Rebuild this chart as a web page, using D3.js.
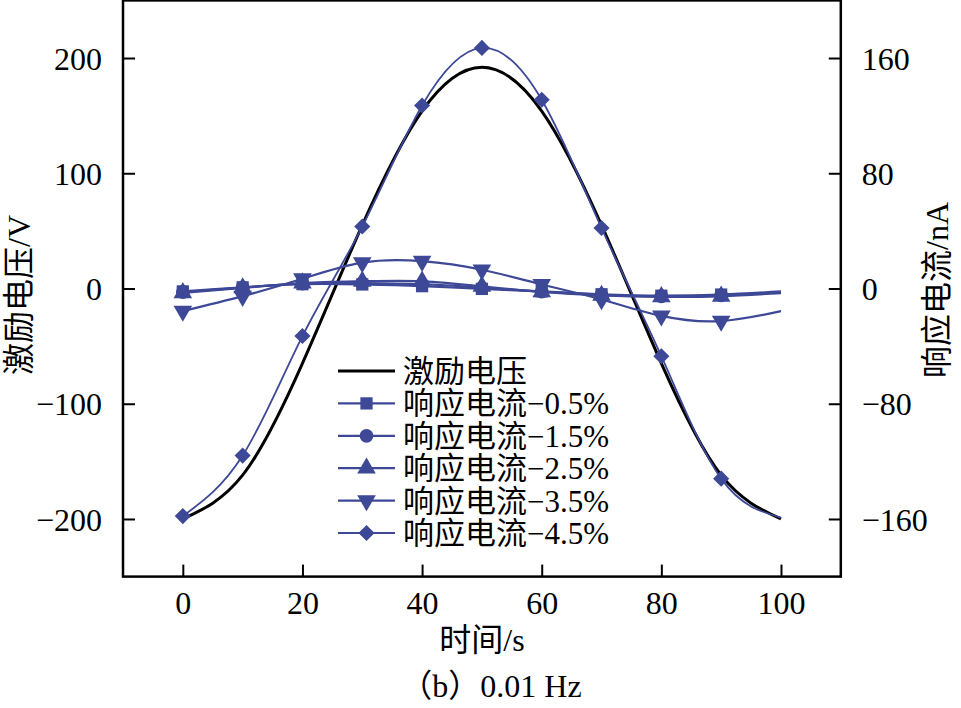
<!DOCTYPE html>
<html>
<head>
<meta charset="utf-8">
<script src="https://cdn.jsdelivr.net/npm/d3@7/dist/d3.min.js"></script>
<style>
  html, body { margin: 0; padding: 0; background: #fff; }
  svg text { font-family: "Liberation Serif", "Noto Sans CJK SC", serif; fill: #000; }
</style>
</head>
<body>
<svg id="chart" width="961" height="708"></svg>
<script>
// ---- data ----
const time = [0, 10, 20, 30, 40, 50, 60, 70, 80, 90, 100];
const voltage = [-200, -162, -65, 55, 154, 192, 154, 55, -65, -162, -200];          // V, left axis
const current05 = [-2, 0.8, 3, 2.8, 1.6, -0.3, -2, -4, -5, -4.2, -2];               // nA, right axis
const current15 = [-2.5, 0.6, 3.4, 3.8, 3, 0.5, -2.2, -4.4, -5.4, -4.8, -2.6];
const current25 = [-3, 0.4, 3.8, 5, 5, 1.5, -2.4, -4.8, -5.8, -5.4, -3.2];
const current35 = [-15.7, -5.3, 6.8, 18, 19, 13, 2.8, -7.6, -19, -22.6, -15.7];
const current45 = [-158, -116, -33, 43, 127, 167, 131, 42, -47, -132, -159];
const markerShown = 10; // markers at first 10 points (0..90)

const seriesNames = ["激励电压", "响应电流−0.5%", "响应电流−1.5%", "响应电流−2.5%", "响应电流−3.5%", "响应电流−4.5%"];
const xTicks = [0, 20, 40, 60, 80, 100];
const yLeftTicks = [-200, -100, 0, 100, 200];
const yRightTicks = [-160, -80, 0, 80, 160];
const xTitle = "时间/s";
const yLeftTitle = "激励电压/V";
const yRightTitle = "响应电流/nA";
const caption = "（b）0.01 Hz";

// ---- layout ----
const svg = d3.select("#chart");
const pL = 123, pR = 840.8, pT = 0.4, pB = 576.6;
const x = d3.scaleLinear().domain([-10, 110]).range([pL, pR]);
const yL = d3.scaleLinear().domain([-250, 250]).range([pB, pT]);
const yR = d3.scaleLinear().domain([-200, 200]).range([pB, pT]);
const blue = "#3d4896";
const fs = 32;
const fmt = v => (v < 0 ? "\u2212" + Math.abs(v) : String(v));

const currents = [
  { vals: current05, sym: d3.symbolSquare, size: 150, rot: 0, w: 2.2 },
  { vals: current15, sym: d3.symbolCircle, size: 150, rot: 0, w: 2.2 },
  { vals: current25, sym: d3.symbolTriangle, size: 150, rot: 0, w: 2.2 },
  { vals: current35, sym: d3.symbolTriangle, size: 150, rot: 180, w: 2.2 },
  { vals: current45, sym: d3.symbolSquare, size: 130, rot: 45, w: 1.8 }
];

const lineL = d3.line().x((d, i) => x(time[i])).y(d => yL(d)).curve(d3.curveNatural);
const lineR = d3.line().x((d, i) => x(time[i])).y(d => yR(d)).curve(d3.curveNatural);

svg.append("path").attr("d", lineL(voltage)).attr("fill", "none")
  .attr("stroke", "#000").attr("stroke-width", 3);

currents.forEach(s => {
  svg.append("path").attr("d", lineR(s.vals)).attr("fill", "none")
    .attr("stroke", blue).attr("stroke-width", s.w);
});
currents.forEach(s => {
  const sym = d3.symbol().type(s.sym).size(s.size);
  svg.append("g").selectAll("path").data(s.vals.slice(0, markerShown)).join("path")
    .attr("d", sym)
    .attr("fill", blue)
    .attr("transform", (d, i) => `translate(${x(time[i])},${yR(d)}) rotate(${s.rot})`);
});

// frame
svg.append("rect").attr("x", pL).attr("y", pT).attr("width", pR - pL).attr("height", pB - pT)
  .attr("fill", "none").attr("stroke", "#000").attr("stroke-width", 2.5);

// axes with inward ticks
const tl = 12;
const axB = svg.append("g").attr("transform", `translate(0,${pB})`)
  .call(d3.axisBottom(x).tickValues(xTicks).tickSizeInner(-tl).tickSizeOuter(0).tickPadding(tl + 3).tickFormat(fmt));
const axL = svg.append("g").attr("transform", `translate(${pL},0)`)
  .call(d3.axisLeft(yL).tickValues(yLeftTicks).tickSizeInner(-tl).tickSizeOuter(0).tickPadding(tl + 9).tickFormat(fmt));
const axR = svg.append("g").attr("transform", `translate(${pR},0)`)
  .call(d3.axisRight(yR).tickValues(yRightTicks).tickSizeInner(-tl).tickSizeOuter(0).tickPadding(tl + 9).tickFormat(fmt));
[axB, axL, axR].forEach(a => {
  a.select(".domain").remove();
  a.selectAll(".tick line").attr("stroke", "#000").attr("stroke-width", 2);
  a.selectAll(".tick text").attr("font-size", fs).attr("font-family", "Liberation Serif, serif").attr("fill", "#000");
});
axL.selectAll(".tick text").attr("dy", "0.35em");
axR.selectAll(".tick text").attr("dy", "0.35em");
axB.selectAll(".tick text").attr("dy", "0.71em");

// titles
svg.append("text").attr("x", 482).attr("y", 651).attr("text-anchor", "middle").attr("font-size", fs).text(xTitle);
svg.append("text").attr("x", 491).attr("y", 697).attr("text-anchor", "middle").attr("font-size", fs).text(caption);
svg.append("text").attr("transform", "translate(30,295) rotate(-90)").attr("text-anchor", "middle")
  .attr("font-size", fs).text(yLeftTitle);
svg.append("text").attr("transform", "translate(948,290) rotate(-90)").attr("text-anchor", "middle")
  .attr("font-size", fs).text(yRightTitle);

// legend
const legY0 = 371, legDy = 32.4, lx0 = 338, lx1 = 395, tx = 403, lfs = 31;
seriesNames.forEach((name, k) => {
  const yy = legY0 + k * legDy;
  const g = svg.append("g");
  if (k === 0) {
    g.append("line").attr("x1", lx0).attr("x2", lx1).attr("y1", yy).attr("y2", yy)
      .attr("stroke", "#000").attr("stroke-width", 3);
  } else {
    const s = currents[k - 1];
    g.append("line").attr("x1", lx0).attr("x2", lx1).attr("y1", yy).attr("y2", yy)
      .attr("stroke", blue).attr("stroke-width", 2.2);
    g.append("path").attr("d", d3.symbol().type(s.sym).size(s.size)())
      .attr("fill", blue).attr("transform", `translate(${(lx0 + lx1) / 2},${yy}) rotate(${s.rot})`);
  }
  g.append("text").attr("x", tx).attr("y", yy + 11).attr("font-size", lfs).text(name);
});
</script>
</body>
</html>
